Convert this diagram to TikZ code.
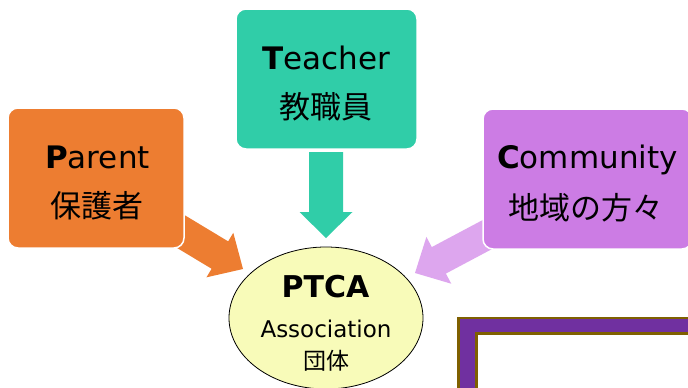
\documentclass[tikz,border=0pt]{standalone}
\usepackage{fontspec}
\setmainfont{DejaVu Sans}
\newfontfamily\jpfont{Noto Sans CJK JP}
\usetikzlibrary{calc,shapes.geometric}
\definecolor{cP}{HTML}{ED7D31}
\definecolor{cT}{HTML}{30CDA8}
\definecolor{cC}{HTML}{CC7CE4}
\definecolor{cCa}{HTML}{DDA6EE}
\definecolor{cE}{HTML}{F8FBB9}
\definecolor{cF}{HTML}{7030A0}
\definecolor{cB}{HTML}{7F6000}
% #1 start, #2 tip, #3 half shaft, #4 half head, #5 head length, #6 colour
\newcommand\blockarr[6]{%
  \coordinate (#1h) at ($(#2)!#5!(#1)$);
  \fill[#6] ($(#1)!#3!90:(#2)$) -- ($(#1h)!#3!90:(#2)$) -- ($(#1h)!#4!90:(#2)$)
    -- (#2) -- ($(#1h)!#4!-90:(#2)$) -- ($(#1h)!#3!-90:(#2)$) -- ($(#1)!#3!-90:(#2)$) -- cycle;
}
\tikzset{
  box/.style={rectangle, rounded corners=10pt, draw=white, line width=1.5pt, minimum height=140pt, inner sep=0pt},
  lat/.style={anchor=base, inner sep=0pt, font=\fontsize{31}{36}\selectfont},
  jp/.style={anchor=center, inner sep=0pt, font=\jpfont\fontsize{31}{36}\selectfont},
}
\begin{document}
\begin{tikzpicture}[x=1pt,y=-1pt]
\useasboundingbox (0,0) rectangle (688,388);
\clip (0,0) rectangle (688,388);
\fill[white] (0,0) rectangle (688,388);
% frame
\fill[cB] (457,316.5) rectangle (700,400);
\fill[cF] (459.5,319) rectangle (700,400);
\fill[cB] (475,332) rectangle (700,400);
\fill[white] (478,335) rectangle (700,400);
% arrows
\coordinate (ps) at (170,225); \coordinate (pt) at (243,269);
\blockarr{ps}{pt}{16pt}{26pt}{27pt}{cP}
\coordinate (ts) at (326,152); \coordinate (tt) at (326,238);
\blockarr{ts}{tt}{17pt}{26.5pt}{26pt}{cT}
\coordinate (cs) at (494,231); \coordinate (ct) at (415,273);
\blockarr{cs}{ct}{15pt}{26.5pt}{27pt}{cCa}
% boxes
\node[box, fill=cP, minimum width=176pt] (parent) at (96,178) {};
\node[lat] (parentEn) at (97.5,168) {\textbf{P}arent};
\node[jp] (parentJa) at (96.5,206) {保護者};
\node[box, fill=cT, minimum width=181pt] (teacher) at (326.5,79) {};
\node[lat] (teacherEn) at (326,69) {\textbf{T}eacher};
\node[jp] (teacherJa) at (325.5,107) {教職員};
\node[box, fill=cC, minimum width=209pt] (community) at (587.5,179) {};
\node[lat] (communityEn) at (587.5,168) {\textbf{C}ommunity};
\node[jp] (communityJa) at (585.5,208) {地域の方々};
% ellipse
\node[ellipse, draw=black, line width=0.8pt, fill=cE, minimum width=194pt, minimum height=142pt, inner sep=0pt] (ptca) at (326,318) {};
\node[anchor=base, inner sep=0pt, font=\bfseries\fontsize{30}{36}\selectfont] (ptcaEn) at (325.5,297) {PTCA};
\node[anchor=base, inner sep=0pt, font=\fontsize{23}{28}\selectfont] (assoc) at (326,337) {Association};
\node[anchor=center, inner sep=0pt, font=\jpfont\fontsize{23}{26}\selectfont] (dantai) at (326.5,361) {団体};
\end{tikzpicture}
\end{document}
